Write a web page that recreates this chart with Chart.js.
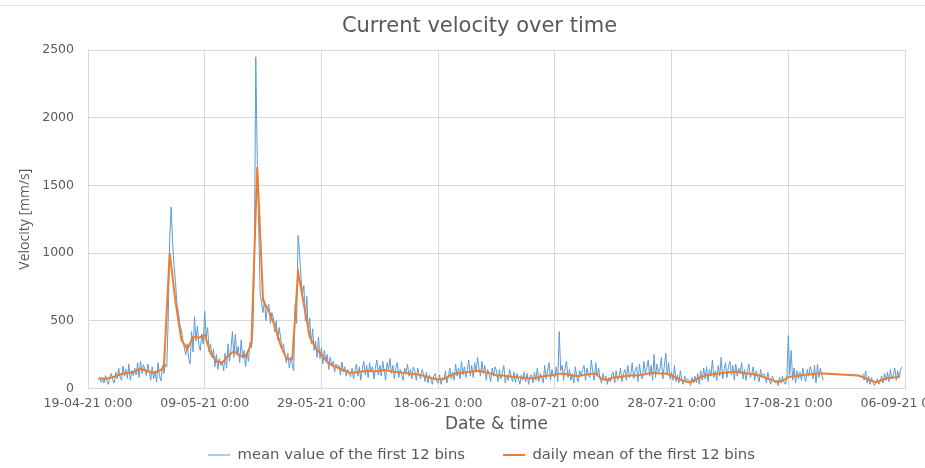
<!DOCTYPE html>
<html lang="en">
<head>
    <meta charset="UTF-8">
    <title>Current velocity over time</title>
    <script src="https://cdn.jsdelivr.net/npm/chart.js"></script>
    <style>
        html, body { margin: 0; padding: 0; background: #fff; overflow: hidden; }
        #wrap { position: relative; width: 925px; height: 468px; }
        #topline { position: absolute; left: 0; top: 5px; width: 925px; height: 1px; background: #e3e3e3; }
    </style>
</head>
<body>
<div id="wrap">
    <div id="topline"></div>
    <canvas id="grafica" width="925" height="468"></canvas>
</div>
<script>
    // x is counted in days from 19-04-21 0:00
    const xTickLabels = ['19-04-21 0:00', '09-05-21 0:00', '29-05-21 0:00', '18-06-21 0:00',
                         '08-07-21 0:00', '28-07-21 0:00', '17-08-21 0:00', '06-09-21 0:00'];
    const yTicks = [0, 500, 1000, 1500, 2000, 2500];

    // mean value of the first 12 bins, one value every 6 hours
    const blueStep = 0.25;
    const blueStart1 = 1.75;
    const blueValues1 = [60,
        85,45,70,40, 95,55,30,90, 110,60,40,120, 70,150,85,60,
        165,90,140,75, 180,60,130,95, 150,100,190,80, 200,110,175,140,
        95,180,120,60, 160,70,130,45, 190,90,55,170, 110,180,160,520,
        1100,1340,1080,900, 780,620,560,470, 430,360,300,250, 330,220,180,420,
        270,530,350,460, 320,280,400,330, 570,380,450,270, 330,230,290,160,
        250,140,220,170, 200,130,260,150, 330,200,290,420, 230,400,250,310,
        190,360,220,280, 160,270,200,340, 300,420,900,2450, 1700,1200,700,630,
        560,650,500,600, 620,480,560,520, 420,500,360,450, 380,290,330,250,
        190,260,150,230, 180,130,620,480, 1130,1000,820,700, 760,500,680,410,
        520,330,440,280, 350,230,380,220, 300,180,280,200, 250,140,230,170,
        200,120,180,150, 170,100,195,120, 160,90,140,110, 85,150,70,130,
        180,90,160,60, 140,200,100,170, 80,190,120,160, 70,150,210,100,
        170,90,200,130, 60,190,140,220, 110,170,70,150, 190,80,140,100,
        60,150,120,180, 90,140,70,160, 130,60,150,100, 70,140,110,50,
        120,40,100,70, 30,90,110,50, 40,100,30,80, 60,130,40,90,
        150,70,120,60, 180,90,150,70, 200,100,160,80, 140,210,90,170,
        80,190,120,230, 150,90,200,110, 170,60,140,100, 50,150,90,160,
        130,50,140,70, 110,170,40,100, 60,140,90,50, 120,40,110,70,
        30,100,60,120, 50,110,30,90, 100,40,120,60, 150,50,110,80,
        40,170,70,130, 190,60,140,90, 80,160,50,420, 130,170,60,150,
        200,80,140,60, 110,40,160,80, 50,130,90,140, 170,60,150,100,
        80,210,120,60, 190,90,150,70, 40,110,60,90, 30,80,50,100,
        120,40,130,60, 90,150,50,110, 140,60,170,80, 100,190,70,130,
        160,50,180,90, 70,200,110,150, 210,90,170,60, 250,80,180,120,
        140,230,70,160, 260,100,190,70, 120,60,170,50, 100,40,130,60,
        30,90,50,70, 60,20,80,40, 90,40,110,30, 130,60,150,70,
        160,50,140,90, 210,80,130,60, 170,90,230,70, 140,190,80,160,
        200,100,170,60, 180,90,150,110, 190,70,140,60, 130,180,80,110,
        160,60,130,90, 50,140,80,110, 100,40,120,60, 30,90,70,40,
        60,20,80,40, 90,50,30,70, 390,100,280,60, 150,40,130,70,
        120,60,150,80, 50,140,90,160, 130,70,170,40, 180,80,150,100,
        60];
    const blueStart2 = 132.75;
    const blueValues2 = [110, 60,130,40,90, 30,80,50,20, 40,70,30,60,
        90,40,110,60, 120,50,140,70, 100,150,60,130, 80,140,160];

    // daily mean of the first 12 bins
    const dailyStart1 = 2;
    const dailyValues1 = [75,70,80,95,110,115,125,145,130,115,
        125,150,1000,640,360,290,380,375,395,260,
        200,190,240,275,240,235,330,1635,650,570,
        460,320,220,215,860,620,380,300,250,195,
        165,150,130,115,120,125,130,125,130,135,
        125,120,115,110,105,100,85,75,65,70,
        95,110,115,120,125,130,120,110,95,95,
        90,85,80,75,75,80,90,95,100,110,
        105,95,90,100,105,110,70,60,80,85,
        90,95,95,100,110,115,110,110,95,75,
        55,45,60,85,95,105,110,115,120,125,
        115,110,105,95,80,65,50,55,85,90,
        95,100,105,110,110];
    const dailyStart2 = 132;
    const dailyValues2 = [95,80,60,45,60,75,80,85];

    const toPoints = (start, step, vals) => vals.map((v, i) => ({ x: start + i * step, y: v }));

    const bluePoints = toPoints(blueStart1, blueStep, blueValues1)
        .concat([{ x: 129, y: null }])
        .concat(toPoints(blueStart2, blueStep, blueValues2));
    const dailyPoints = toPoints(dailyStart1, 1, dailyValues1)
        .concat(toPoints(dailyStart2, 1, dailyValues2));

    const gris = '#595959';
    const fuente = 'DejaVu Sans';

    // el titulo y la leyenda van centrados un poco mas a la derecha que el lienzo
    const desplaza = {
        id: 'desplaza',
        afterLayout(chart) {
            chart.legend.left += 29;
            chart.legend.right += 29;
            chart.titleBlock.left += 27;
            chart.titleBlock.right += 27;
        }
    };

    const config = {
        type: 'line',
        data: {
            datasets: [{
                label: 'mean value of the first 12 bins',
                data: bluePoints,
                borderColor: '#5B9BD5',
                backgroundColor: '#5B9BD5',
                borderWidth: 1,
                pointRadius: 0,
                spanGaps: false,
                order: 1
            },
            {
                label: 'daily mean of the first 12 bins',
                data: dailyPoints,
                borderColor: '#ED7D31',
                backgroundColor: '#ED7D31',
                borderWidth: 2,
                pointRadius: 0,
                order: 0
            }]
        },
        options: {
            responsive: false,
            animation: false,
            layout: { padding: { left: 0, right: 20, top: 0, bottom: -4.4 } },
            scales: {
                x: {
                    type: 'linear',
                    min: 0,
                    max: 140,
                    afterBuildTicks: (s) => { s.ticks = xTickLabels.map((t, i) => ({ value: i * 20 })); },
                    afterFit: (s) => { s.paddingLeft = 0; s.paddingRight = 0; },
                    ticks: {
                        maxRotation: 0,
                        autoSkip: false,
                        padding: 7.5,
                        color: gris,
                        font: { family: fuente, size: 12.5 },
                        callback: (v) => xTickLabels[Math.round(v / 20)]
                    },
                    grid: { color: '#d9d9d9', drawTicks: false, tickLength: 0 },
                    border: { color: '#d9d9d9' },
                    title: {
                        display: true,
                        text: 'Date & time',
                        color: gris,
                        font: { family: fuente, size: 17 },
                        padding: { top: -4.2, bottom: -25 }
                    }
                },
                y: {
                    min: 0,
                    max: 2500,
                    afterBuildTicks: (s) => { s.ticks = yTicks.map(v => ({ value: v })); },
                    afterFit: (s) => { s.width = 88; },
                    ticks: {
                        padding: 14,
                        color: gris,
                        font: { family: fuente, size: 12.5 },
                        callback: (v) => String(v)
                    },
                    grid: { color: '#d9d9d9', drawTicks: false, tickLength: 0 },
                    border: { color: '#d9d9d9' },
                    title: {
                        display: true,
                        text: 'Velocity [mm/s]',
                        color: gris,
                        font: { family: 'Open Sans', size: 14 },
                        padding: { top: 16.6, bottom: 0 }
                    }
                }
            },
            plugins: {
                title: {
                    display: true,
                    text: 'Current velocity over time',
                    color: gris,
                    font: { family: fuente, size: 21, weight: 'normal' },
                    padding: { top: 14.4, bottom: 10.4 }
                },
                legend: {
                    position: 'bottom',
                    labels: {
                        usePointStyle: true,
                        pointStyle: 'line',
                        pointStyleWidth: 22,
                        color: gris,
                        font: { family: fuente, size: 14.8 },
                        padding: 38,
                        sort: (a, b) => a.datasetIndex - b.datasetIndex
                    }
                },
                tooltip: { enabled: false }
            }
        },
        plugins: [desplaza]
    };

    const ctx = document.getElementById('grafica').getContext('2d');
    new Chart(ctx, config);
</script>
</body>
</html>
